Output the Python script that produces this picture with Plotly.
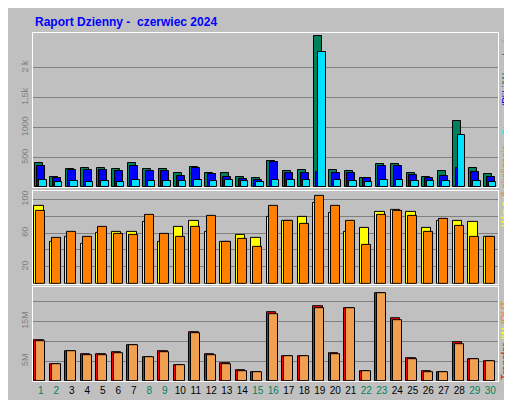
import plotly.graph_objects as go
from plotly.subplots import make_subplots

days = list(range(1, 31))
weekend = [1, 2, 8, 9, 15, 16, 22, 23, 29, 30]

hits = [411, 178, 300, 317, 317, 300, 411, 300, 300, 233, 345, 245, 245, 167, 150,
        445, 278, 295, 2530, 295, 278, 161, 384, 400, 245, 178, 278, 1112, 317, 217]
files = [361, 156, 289, 289, 295, 278, 350, 278, 267, 195, 317, 222, 167, 139, 128,
         417, 233, 233, 250, 233, 233, 161, 350, 361, 211, 161, 183, 317, 261, 178]
pages = [128, 83, 100, 83, 111, 83, 128, 111, 100, 111, 128, 100, 128, 100, 83,
         128, 128, 128, 2268, 128, 111, 83, 128, 128, 111, 100, 111, 884, 100, 83]

visits = [92, 49, 56, 47, 60, 61, 61, 73, 49, 67, 74, 62, 49, 58, 54,
          79, 75, 79, 96, 84, 62, 66, 85, 87, 85, 66, 74, 75, 73, 55]
sites = [86, 54, 61, 55, 67, 59, 58, 82, 59, 55, 67, 80, 49, 53, 44,
         92, 75, 71, 104, 92, 74, 46, 82, 86, 80, 61, 77, 68, 56, 55]

transfer = [10.3, 4.2, 7.4, 6.7, 6.7, 7.2, 9.1, 5.9, 7.4, 4.0, 12.3, 6.7, 4.5, 2.8, 2.3,
            17.2, 6.2, 6.2, 18.9, 6.9, 18.4, 2.5, 22.0, 15.7, 5.7, 2.5, 2.3, 9.8, 5.4, 5.0]
traffic_out = [10.1, 4.2, 7.4, 6.4, 6.4, 6.9, 8.9, 5.9, 7.2, 4.0, 12.0, 6.4, 4.2, 2.5, 2.3,
               16.9, 6.2, 6.2, 18.4, 6.7, 18.4, 2.5, 22.0, 15.4, 5.4, 2.3, 2.3, 9.3, 5.4, 5.0]

bg = "#c0c0c0"
font = "Liberation Sans, Arial, sans-serif"

fig = make_subplots(rows=3, cols=1, shared_xaxes=True, vertical_spacing=0.01,
                    row_heights=[158, 95, 96])

def bars(y, color, offset, width, row):
    fig.add_trace(go.Bar(x=days, y=y, offset=offset, width=width,
                         marker=dict(color=color, line=dict(color="black", width=1)),
                         showlegend=False, hoverinfo="skip"), row=row, col=1)

bars(hits, "#00805c", -0.38, 0.5, 1)
bars(files, "#0000ff", -0.22, 0.5, 1)
bars(pages, "#00e0ff", -0.1, 0.48, 1)
bars(visits, "#ffff00", -0.42, 0.6, 2)
bars(sites, "#ff8000", -0.3, 0.6, 2)
bars(transfer, "#ff0000", -0.42, 0.6, 3)
bars(traffic_out, "#f0a050", -0.3, 0.6, 3)

ticktext = [f"<span style='color:#00805c'>{d}</span>" if d in weekend else str(d) for d in days]

yax = dict(showgrid=True, gridcolor="#808080", gridwidth=1, zeroline=False,
           tickangle=-90, tickfont=dict(size=9, color="#808080", family=font),
           showline=True, linecolor="white", mirror=True, ticks="")
fig.update_yaxes(**yax)
fig.update_yaxes(range=[0, 2585], tickvals=[500, 1000, 1500, 2000],
                 ticktext=["500", "1000", "1,5k", "2 k"], row=1, col=1)
fig.update_yaxes(range=[0, 110], tickvals=[20, 40, 60, 80, 100],
                 ticktext=["20", "", "60", "", "100"], row=2, col=1)
fig.update_yaxes(range=[0, 23.6], tickvals=[5, 10, 15, 20],
                 ticktext=["5M", "", "15M", ""], row=3, col=1)
fig.update_xaxes(range=[0.5, 30.5], showgrid=False, showline=True, linecolor="white",
                 mirror=True, ticks="")
fig.update_xaxes(tickvals=days, ticktext=ticktext,
                 tickfont=dict(size=10, color="black", family=font), row=3, col=1)

def side_label(text, y, anchor):
    fig.add_annotation(xref="paper", yref="paper", x=1.0, y=y, xanchor="left", yanchor=anchor,
                       xshift=1, textangle=-90, showarrow=False, borderpad=0,
                       font=dict(size=10, family=font), text=text)

side_label("<span style='color:#00e0ff'>Strony</span><span style='color:#0000ff'>/Pliki</span>"
           "<span style='color:#00805c'>/Wywolania</span>", 1.0, "top")
side_label("<span style='color:#ffff00'>Wizyty</span><span style='color:#ff8000'>/Lokalizacje</span>",
           0.56, "middle")
side_label("<span style='color:#ff0000'>Transfer</span><span style='color:#ffff00'> /IN</span>"
           "<span style='color:#ff8000'> /OUT</span>", 0.0, "bottom")

fig.add_annotation(xref="paper", yref="paper", x=0, y=1.0, xanchor="left", yanchor="bottom",
                   yshift=2, showarrow=False, text="<b>Raport Dzienny -  czerwiec 2024</b>",
                   font=dict(size=12, color="#0000ff", family=font))

fig.update_layout(width=512, height=400, paper_bgcolor=bg, plot_bgcolor=bg,
                  margin=dict(l=20, r=22, t=25, b=23), bargap=0, barmode="overlay")

fig.write_html("out.html")
